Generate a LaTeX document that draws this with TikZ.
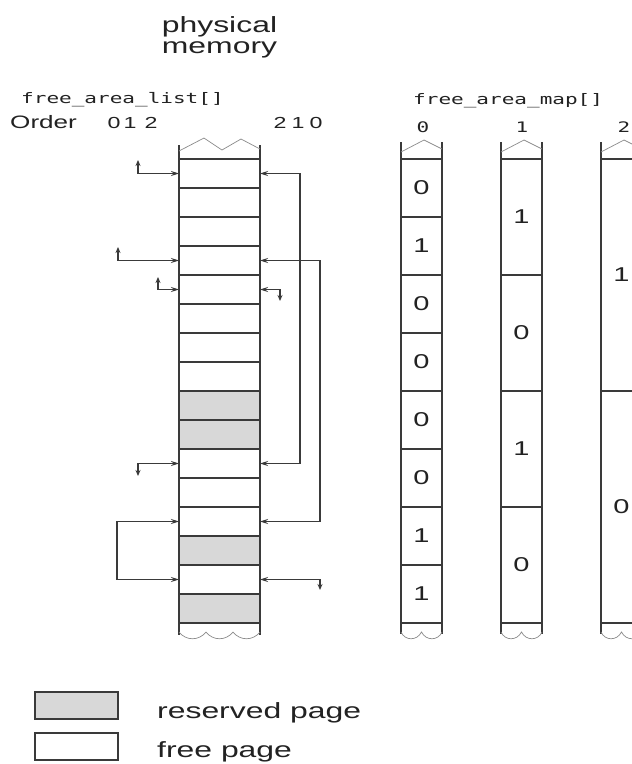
\documentclass[tikz,border=0pt]{standalone}
\usepackage{fontspec}
\usetikzlibrary{arrows.meta}
\newfontfamily\sansw{Liberation Sans}[FakeStretch=1.45]
\newfontfamily\monow{DejaVu Sans Mono}[FakeStretch=1.45]
\definecolor{ink}{HTML}{3A3A3A}
\definecolor{faint}{HTML}{8A8A8A}
\definecolor{resv}{HTML}{D8D8D8}
\definecolor{txt}{HTML}{222222}
\tikzset{
  page/.style={draw=ink, line width=1.1pt, minimum width=81pt, minimum height=29pt, inner sep=0pt, outer sep=0pt},
  freepg/.style={page, fill=white},
  resvpg/.style={page, fill=resv},
  bitcell/.style={draw=ink, line width=1.1pt, minimum width=41pt, inner sep=0pt, outer sep=0pt,
     font=\sansw\fontsize{20}{20}\selectfont, text=txt},
  colline/.style={draw=ink, line width=1.2pt},
  breakline/.style={draw=faint, line width=0.7pt},
  link/.style={draw=ink, line width=1.2pt, {Stealth[length=8pt,width=5pt]}-{Stealth[length=8pt,width=5pt]}},
  stub/.style={draw=ink, line width=1.2pt, {Stealth[length=6pt,width=5pt]}-{Stealth[length=8pt,width=5pt]}},
  sanslbl/.style={font=\sansw\fontsize{22}{22}\selectfont, text=txt, inner sep=0pt},
  smalllbl/.style={font=\sansw\fontsize{16}{16}\selectfont, text=txt, inner sep=0pt},
  orderlbl/.style={font=\sansw\fontsize{18}{18}\selectfont, text=txt, inner sep=0pt},
  monolbl/.style={font=\monow\fontsize{14.5}{14.5}\selectfont, text=txt, inner sep=0pt},
}
\begin{document}
\begin{tikzpicture}[x=1pt,y=-1pt]
\clip (0,0) rectangle (632,764);
\fill[white] (0,0) rectangle (632,764);

% titles
\node[sanslbl, anchor=base] (t1) at (219.5,32) {physical};
\node[sanslbl, anchor=base] (t2) at (219.5,53) {memory};
\node[monolbl, anchor=base west] (hl) at (21,103) {free\_area\_list[]};
\node[monolbl, anchor=base west] (hm) at (413,104) {free\_area\_map[]};
\node[orderlbl, anchor=base west] (ord) at (10,128) {Order};
\node[smalllbl, anchor=base] (o0) at (114,128) {0};
\node[smalllbl, anchor=base] (o1) at (130,128) {1};
\node[smalllbl, anchor=base] (o2) at (151,128) {2};
\node[smalllbl, anchor=base] (p2) at (280,128) {2};
\node[smalllbl, anchor=base] (p1) at (298,128) {1};
\node[smalllbl, anchor=base] (p0) at (316,128) {0};
\node[monolbl, anchor=base] (m0) at (423,132) {0};
\node[monolbl, anchor=base] (m1) at (522,132) {1};
\node[monolbl, anchor=base] (m2) at (624,132) {2};

% physical memory column
\foreach \i/\s in {0/freepg,1/freepg,2/freepg,3/freepg,4/freepg,5/freepg,6/freepg,7/freepg,
                   8/resvpg,9/resvpg,10/freepg,11/freepg,12/freepg,13/resvpg,14/freepg,15/resvpg}
  \node[\s] (r\i) at (219.5,{173.5+29*\i}) {};
\draw[colline] (179,145) -- (179,635);
\draw[colline] (260,145) -- (260,635);
\draw[breakline] (179,151) -- (204,138) -- (222,150) -- (241,139) -- (260,149);
\draw[breakline] (179,632) .. controls (186,641) and (199,641) .. (206,632)
                 .. controls (213,641) and (226,641) .. (233,632)
                 .. controls (240,641) and (253,641) .. (260,632);

% free_area_map columns
\foreach \i/\v in {0/0,1/1,2/0,3/0,4/0,5/0,6/1,7/1}
  \node[bitcell, minimum height=58pt] (a\i) at (421.5,{188+58*\i}) {\v};
\foreach \i/\v in {0/1,1/0,2/1,3/0}
  \node[bitcell, minimum height=116pt] (b\i) at (521.5,{217+116*\i}) {\v};
\foreach \i/\v in {0/1,1/0}
  \node[bitcell, minimum height=232pt] (c\i) at (621.5,{275+232*\i}) {\v};
\foreach \xl/\xr in {401/442,501/542,601/642}{
  \draw[colline] (\xl,142) -- (\xl,634);
  \draw[colline] (\xr,142) -- (\xr,634);
  \draw[breakline] (\xl,152) -- ({\xl+23},140) -- (\xr,149);
  \draw[breakline] (\xl,632) .. controls ({\xl+4},641) and ({\xl+16},641) .. ({\xl+20.5},632)
                   .. controls ({\xl+25},641) and ({\xr-4},641) .. (\xr,632);
}

% stub ends (pointers back to the list heads)
\coordinate (s0) at (138,160);
\coordinate (s3) at (118,247);
\coordinate (s4) at (158,277);
\coordinate (s10) at (138,476);
\coordinate (e4) at (280,301);
\coordinate (e14) at (320,590);

% left side links
\draw[stub] (s0) |- (r0.west);
\draw[stub] (s3) |- (r3.west);
\draw[stub] (s4) |- (r4.west);
\draw[stub] (s10) |- (r10.west);
\draw[link] (r12.west) -- ++(-62,0) |- (r14.west);

% right side links
\draw[link] (r0.east) -- ++(40,0) |- (r10.east);
\draw[link] (r3.east) -- ++(60,0) |- (r12.east);
\draw[stub] (e4) |- (r4.east);
\draw[stub] (e14) |- (r14.east);

% legend
\node[draw=ink, line width=1.1pt, fill=resv, minimum width=83pt, minimum height=27pt, inner sep=0pt] (lr) at (76.5,705.5) {};
\node[draw=ink, line width=1.1pt, fill=white, minimum width=83pt, minimum height=27pt, inner sep=0pt] (lf) at (76.5,746.5) {};
\node[sanslbl, anchor=base west] (tr) at (157,718) {reserved page};
\node[sanslbl, anchor=base west] (tf) at (157,757) {free page};
\end{tikzpicture}
\end{document}
